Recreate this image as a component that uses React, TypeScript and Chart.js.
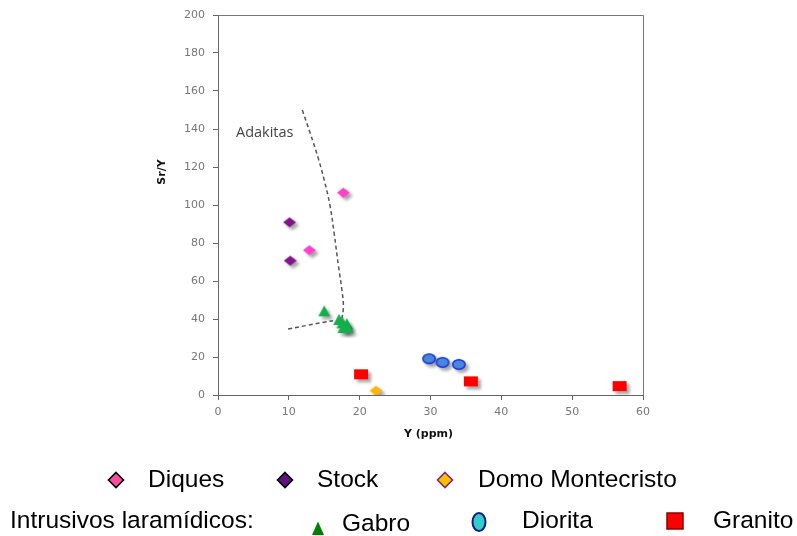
import React, { useEffect, useRef } from "react";
import { Chart, registerables } from "chart.js";

Chart.register(...registerables);

// ---- data ----
const diquesX = [17.7, 12.9];
const diquesY = [106.5, 76.2];
const stockX = [10.1, 10.2];
const stockY = [90.9, 70.7];
const domoX = [22.3];
const domoY = [2.3];
const gabroX = [15.0, 17.1, 17.6, 18.2, 17.7, 18.3];
const gabroY = [44.3, 39.8, 38.0, 37.5, 35.5, 35.5];
const dioritaX = [29.8, 31.7, 34.0];
const dioritaY = [19.1, 17.2, 16.1];
const granitoX = [20.2, 35.7, 56.7];
const granitoY = [10.9, 7.2, 4.7];
const adakUpperX = [11.9, 13.0, 14.2, 15.0, 15.8, 16.4, 17.0, 17.5, 17.7, 17.4];
const adakUpperY = [150, 138, 124, 113, 100, 85, 68, 55, 46, 38.5];
const adakLowerX = [9.9, 12.5, 15.0, 16.6, 17.3];
const adakLowerY = [34.7, 36.6, 38.3, 39.2, 38.7];
const xTicks = [0, 10, 20, 30, 40, 50, 60];
const yTicks = [0, 20, 40, 60, 80, 100, 120, 140, 160, 180, 200];

const pts = (xs: number[], ys: number[]) => xs.map((x, i) => ({ x, y: ys[i] }));

function marker(kind: string, fill: string, stroke: string | null, w: number, h: number) {
  const c = document.createElement("canvas");
  c.width = w + 2;
  c.height = h + 2;
  const g = c.getContext("2d")!;
  g.translate(1, 1);
  g.beginPath();
  if (kind === "diamond") {
    g.moveTo(w / 2, 0); g.lineTo(w, h / 2); g.lineTo(w / 2, h); g.lineTo(0, h / 2); g.closePath();
  } else if (kind === "square") {
    g.rect(0, 0, w, h);
  } else if (kind === "triangle") {
    g.moveTo(w / 2, 0); g.lineTo(w, h); g.lineTo(0, h); g.closePath();
  } else {
    g.ellipse(w / 2, h / 2, w / 2 - 0.8, h / 2 - 0.8, 0, 0, Math.PI * 2);
  }
  g.fillStyle = fill;
  g.fill();
  if (stroke) { g.strokeStyle = stroke; g.lineWidth = 1.5; g.stroke(); }
  return c;
}

const shadowPlugin = {
  id: "shadowPlugin",
  beforeDatasetDraw(chart: any, args: any) {
    const ctx = chart.ctx;
    ctx.save();
    if (chart.data.datasets[args.index].shadow) {
      ctx.shadowColor = "rgba(0,0,0,0.35)";
      ctx.shadowBlur = 3;
      ctx.shadowOffsetX = 3;
      ctx.shadowOffsetY = 3;
    }
  },
  afterDatasetDraw(chart: any) {
    chart.ctx.restore();
  },
};

const decorPlugin = {
  id: "decorPlugin",
  afterDraw(chart: any) {
    const { ctx, chartArea: a, scales } = chart;
    ctx.save();
    ctx.strokeStyle = "#777";
    ctx.lineWidth = 1;
    ctx.beginPath();
    ctx.moveTo(a.left, a.top + 0.5);
    ctx.lineTo(a.right + 0.5, a.top + 0.5);
    ctx.lineTo(a.right + 0.5, a.bottom);
    ctx.stroke();
    // Adakitas label
    ctx.fillStyle = "#444";
    ctx.font = "14.5px 'Open Sans'";
    ctx.textAlign = "center";
    ctx.textBaseline = "alphabetic";
    ctx.fillText("Adakitas", scales.x.getPixelForValue(6.6), scales.y.getPixelForValue(robotY(137)));
    // axis titles
    ctx.fillStyle = "#111";
    ctx.font = "bold 11px 'DejaVu Sans'";
    ctx.textBaseline = "middle";
    ctx.fillText("Y (ppm)", (a.left + a.right) / 2 - 2, a.bottom + 39);
    ctx.translate(a.left - 56, a.top + 157);
    ctx.rotate(-Math.PI / 2);
    ctx.fillText("Sr/Y", 0, 0);
    ctx.restore();
  },
};

function robotY(v: number) { return (395 - v) / 1.9; }

const legendFont: React.CSSProperties = {
  position: "absolute",
  fontFamily: "'Liberation Sans', Arial, sans-serif",
  fontSize: "24.5px",
  lineHeight: "1",
  color: "#000",
  whiteSpace: "nowrap",
};

function LegendText({ x, baseline, text }: { x: number; baseline: number; text: string }) {
  return <div style={{ ...legendFont, left: x, top: baseline - 20.7 }}>{text}</div>;
}

function Diamond({ cx, cy, fill, stroke }: { cx: number; cy: number; fill: string; stroke: string }) {
  return (
    <svg style={{ position: "absolute", left: cx - 9, top: cy - 9 }} width={18} height={18}>
      <polygon points="9,1.5 16.5,9 9,16.5 1.5,9" fill={fill} stroke={stroke} strokeWidth={1.6} />
    </svg>
  );
}

export default function App() {
  const ref = useRef<HTMLCanvasElement>(null);
  useEffect(() => {
    const mk = {
      diques: marker("diamond", "#ff40c8", null, 13, 10),
      stock: marker("diamond", "#85128c", null, 13, 10),
      domo: marker("diamond", "#ffb400", null, 13, 10),
      gabro: marker("triangle", "#12b04c", null, 12, 11),
      diorita: marker("ellipse", "#4a86dc", "#1436d8", 14, 11),
      granito: marker("square", "#ff0000", null, 14, 10),
    };
    const sc = (data: any[], img: any) => ({
      type: "scatter",
      data,
      pointStyle: img,
      pointRadius: 7,
      shadow: true,
    });
    const chart = new Chart(ref.current!, {
      type: "scatter",
      data: {
        datasets: [
          sc(pts(diquesX, diquesY), mk.diques),
          sc(pts(stockX, stockY), mk.stock),
          sc(pts(domoX, domoY), mk.domo),
          sc(pts(gabroX, gabroY), mk.gabro),
          sc(pts(dioritaX, dioritaY), mk.diorita),
          sc(pts(granitoX, granitoY), mk.granito),
          {
            type: "line",
            data: pts(adakUpperX, adakUpperY),
            borderColor: "#555",
            borderWidth: 1.5,
            borderDash: [4, 3],
            pointRadius: 0,
            tension: 0.4,
            fill: false,
          },
          {
            type: "line",
            data: pts(adakLowerX, adakLowerY),
            borderColor: "#555",
            borderWidth: 1.5,
            borderDash: [4, 3],
            pointRadius: 0,
            tension: 0.4,
            fill: false,
          },
        ] as any,
      },
      options: {
        animation: false,
        responsive: false,
        events: [],
        layout: { padding: { left: 0, right: 154, top: 15, bottom: 0 } },
        plugins: { legend: { display: false }, tooltip: { enabled: false } },
        scales: {
          x: {
            type: "linear",
            min: 0,
            max: 60,
            afterBuildTicks: (s: any) => { s.ticks = xTicks.map((v) => ({ value: v })); },
            afterFit: (s: any) => { s.height = 536 - 395; },
            grid: { drawOnChartArea: false, drawTicks: true, tickLength: 5, color: "#666" },
            border: { display: true, color: "#666", width: 1 },
            ticks: { color: "#777", font: { family: "DejaVu Sans", size: 11 }, padding: 6, maxRotation: 0 },
          },
          y: {
            type: "linear",
            min: 0,
            max: 200,
            afterBuildTicks: (s: any) => { s.ticks = yTicks.map((v) => ({ value: v })); },
            afterFit: (s: any) => { s.width = 218; },
            grid: { drawOnChartArea: false, drawTicks: true, tickLength: 5, color: "#666" },
            border: { display: true, color: "#666", width: 1 },
            ticks: { color: "#777", font: { family: "DejaVu Sans", size: 11 }, padding: 8 },
          },
        },
      } as any,
      plugins: [shadowPlugin, decorPlugin],
    });
    return () => chart.destroy();
  }, []);

  return (
    <div style={{ position: "absolute", left: 0, top: 0, width: 797, height: 536, background: "#fff" }}>
      <canvas ref={ref} width={797} height={536} style={{ position: "absolute", left: 0, top: 0, width: 797, height: 536 }} />
      <Diamond cx={116} cy={480} fill="#ff4aa5" stroke="#000" />
      <LegendText x={148} baseline={488} text="Diques" />
      <Diamond cx={285} cy={480} fill="#5e1280" stroke="#000" />
      <LegendText x={317} baseline={488} text="Stock" />
      <Diamond cx={445} cy={480} fill="#ffc000" stroke="#7a2a7a" />
      <LegendText x={478} baseline={488} text="Domo Montecristo" />
      <LegendText x={10} baseline={529} text="Intrusivos laramídicos:" />
      <svg style={{ position: "absolute", left: 310, top: 520 }} width={16} height={16}>
        <polygon points="8,1.5 14,15 2,15" fill="#008000" />
      </svg>
      <LegendText x={342} baseline={532} text="Gabro" />
      <svg style={{ position: "absolute", left: 470, top: 511 }} width={18} height={22}>
        <ellipse cx={9} cy={11} rx={6.5} ry={9} fill="#33cccc" stroke="#141e80" strokeWidth={2} />
      </svg>
      <LegendText x={522} baseline={529} text="Diorita" />
      <svg style={{ position: "absolute", left: 666, top: 512 }} width={18} height={18}>
        <rect x={1} y={1} width={16} height={16} fill="#ff0000" stroke="#8b0000" strokeWidth={1.5} />
      </svg>
      <LegendText x={713} baseline={529} text="Granito" />
    </div>
  );
}
